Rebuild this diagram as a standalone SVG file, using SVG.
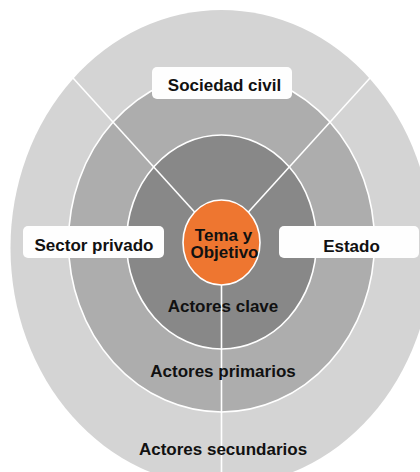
<svg xmlns="http://www.w3.org/2000/svg" width="420" height="472" viewBox="0 0 420 472">
<style>
.ring{stroke:#ffffff;stroke-width:1.6}
.conn line{stroke:#ffffff;stroke-width:1.6}
.box{fill:#fefefe}
text{font-family:"Liberation Sans",Arial,sans-serif;font-weight:bold;font-size:17px;fill:#111111;text-anchor:middle}
</style>
<rect width="420" height="472" fill="#ffffff"/>
<g id="actores-secundarios">
<ellipse cx="221.5" cy="248" rx="211" ry="238" fill="#d4d4d4"/>
</g>
<g id="actores-primarios">
<ellipse class="ring" cx="221.5" cy="242" rx="153" ry="170" fill="#adadad"/>
</g>
<g id="actores-clave">
<ellipse class="ring" cx="221.5" cy="242" rx="95" ry="107" fill="#888888"/>
</g>
<g class="conn" id="connectors">
<line x1="73" y1="78" x2="200" y2="218"/>
<line x1="370" y1="78" x2="243" y2="218"/>
<line x1="221.5" y1="280" x2="221.5" y2="472"/>
</g>
<g id="tema-objetivo">
<ellipse cx="221.5" cy="242.5" rx="38.5" ry="42.5" fill="#ee7630" stroke="#ffffff" stroke-width="1.6"/>
<text x="223.5" y="241">Tema y</text>
<text x="224.5" y="258">Objetivo</text>
</g>
<g id="sociedad-civil">
<rect class="box" x="152" y="67" width="140" height="32" rx="5"/>
<text x="224.5" y="91">Sociedad civil</text>
</g>
<g id="sector-privado">
<rect class="box" x="23" y="226" width="141" height="32" rx="5"/>
<text x="94" y="251">Sector privado</text>
</g>
<g id="estado">
<rect class="box" x="279" y="226" width="140" height="32" rx="5"/>
<text x="351.5" y="252">Estado</text>
</g>
<g id="labels">
<text x="223" y="312">Actores clave</text>
<text x="223" y="377">Actores primarios</text>
<text x="223" y="455">Actores secundarios</text>
</g>
</svg>
